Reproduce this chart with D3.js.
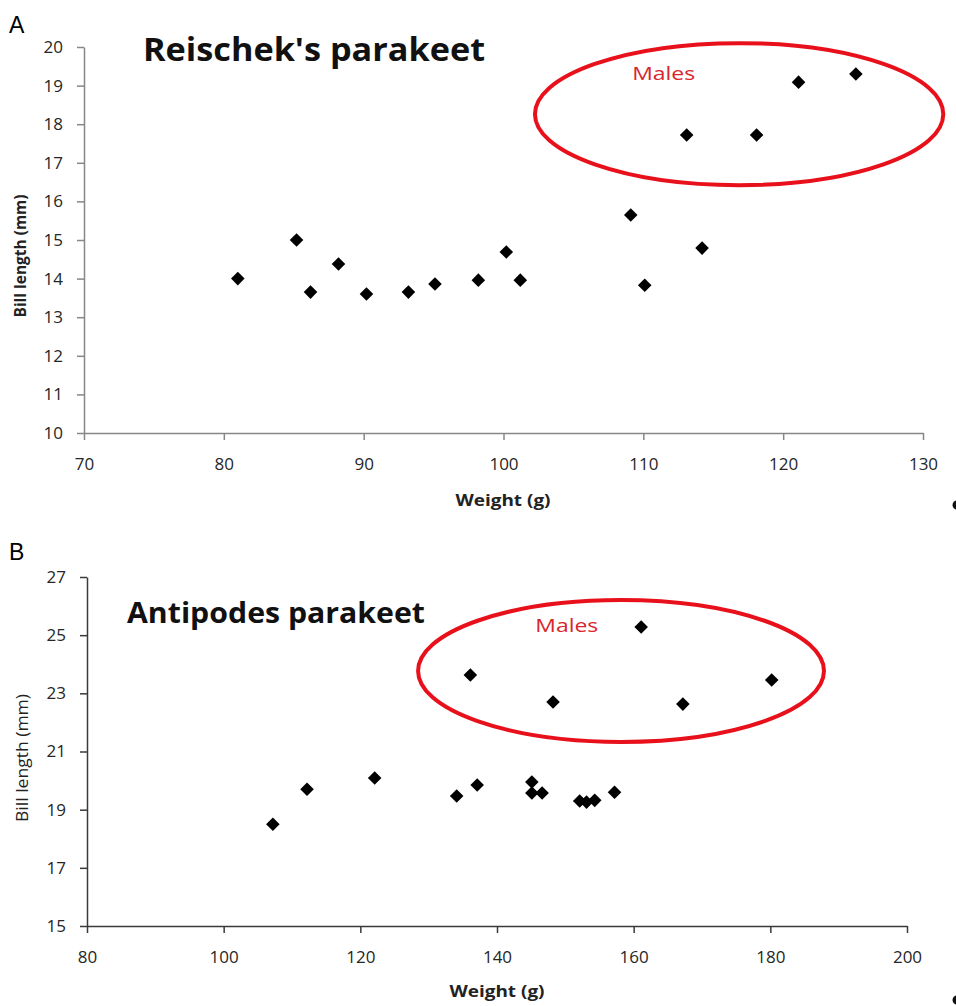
<!DOCTYPE html>
<html>
<head>
<meta charset="utf-8">
<script src="https://cdn.jsdelivr.net/npm/d3@7"></script>
<style>
  body { margin: 0; background: #fff; }
  svg { display: block; font-family: "Open Sans", Lato, sans-serif; }
  .tick text { fill: #262626; font-size: 17px; }
</style>
</head>
<body>
<svg id="drawing" width="956" height="1006"></svg>
<script>
// Panel A: Reischek's parakeet
const reischekWeight = [81, 85.2, 86.2, 88.2, 90.2, 93.2, 95.1, 98.2, 100.2, 101.2, 109.1, 110.1, 114.2, 113.1, 118.1, 121.1, 125.2];
const reischekBill   = [14.0, 15.0, 13.65, 14.38, 13.6, 13.65, 13.86, 13.96, 14.69, 13.96, 15.65, 13.83, 14.79, 17.72, 17.72, 19.09, 19.3];
const reischekXTicks = [70, 80, 90, 100, 110, 120, 130];
const reischekYTicks = [10, 11, 12, 13, 14, 15, 16, 17, 18, 19, 20];

// Panel B: Antipodes parakeet
const antipodesWeight = [107.2, 112.2, 122.1, 134.1, 137.1, 145.1, 145.1, 146.6, 152.1, 153.1, 154.3, 157.2, 136.1, 148.2, 161.1, 167.2, 180.2];
const antipodesBill   = [18.5, 19.7, 20.09, 19.47, 19.85, 19.95, 19.57, 19.57, 19.3, 19.26, 19.32, 19.6, 23.63, 22.7, 25.28, 22.63, 23.46];
const antipodesXTicks = [80, 100, 120, 140, 160, 180, 200];
const antipodesYTicks = [15, 17, 19, 21, 23, 25, 27];

const svg = d3.select("svg#drawing");

function panel(cfg) {
  const { xs, ys, xTicks, yTicks, xRange, yRange, axisColor } = cfg;
  const x = d3.scaleLinear().domain(d3.extent(xTicks)).range(xRange);
  const y = d3.scaleLinear().domain(d3.extent(yTicks)).range(yRange);
  const g = svg.append("g");

  // letter
  g.append("text")
    .attr("x", 9).attr("y", cfg.letterY)
    .attr("font-family", "Liberation Sans, Arial, sans-serif")
    .attr("font-size", 23)
    .text(cfg.letter);

  const xAxis = g.append("g")
    .attr("transform", `translate(0,${yRange[0]})`)
    .call(d3.axisBottom(x).tickValues(xTicks).tickSize(7).tickPadding(18).tickSizeOuter(0));
  const yAxis = g.append("g")
    .attr("transform", `translate(${xRange[0]},0)`)
    .call(d3.axisLeft(y).tickValues(yTicks).tickSize(7).tickPadding(14).tickSizeOuter(0));
  [xAxis, yAxis].forEach(a => {
    a.selectAll("path, line").attr("stroke", axisColor).attr("stroke-width", 1.5);
    a.attr("font-family", null).attr("font-size", null);
  });

  // title
  g.append("text")
    .attr("x", cfg.title.x).attr("y", cfg.title.y)
    .attr("font-weight", 700).attr("font-size", cfg.title.size)
    .attr("textLength", cfg.title.len).attr("lengthAdjust", "spacingAndGlyphs")
    .attr("fill", "#111")
    .text(cfg.title.text);

  // axis titles
  g.append("text")
    .attr("x", cfg.xLabel.x).attr("y", cfg.xLabel.y)
    .attr("text-anchor", "middle")
    .attr("font-weight", 700).attr("font-size", 16)
    .attr("textLength", 95).attr("lengthAdjust", "spacingAndGlyphs")
    .attr("fill", "#222")
    .text("Weight (g)");
  g.append("text")
    .attr("transform", `translate(${cfg.yLabel.x},${cfg.yLabel.y}) rotate(-90)`)
    .attr("text-anchor", "middle")
    .attr("font-weight", cfg.yLabel.weight).attr("font-size", 16)
    .attr("textLength", cfg.yLabel.len).attr("lengthAdjust", "spacingAndGlyphs")
    .attr("fill", "#222")
    .text("Bill length (mm)");

  // males ellipse
  const e = cfg.ellipse;
  g.append("ellipse")
    .attr("cx", x(e.cx)).attr("cy", y(e.cy))
    .attr("rx", x(e.cx + e.rx) - x(e.cx))
    .attr("ry", y(e.cy - e.ry) - y(e.cy))
    .attr("fill", "none")
    .attr("stroke", "#e8101a")
    .attr("stroke-width", 4);
  g.append("text")
    .attr("x", x(e.labelX)).attr("y", y(e.labelY))
    .attr("fill", "#d8262c")
    .attr("font-size", 19)
    .attr("textLength", 63).attr("lengthAdjust", "spacingAndGlyphs")
    .text("Males");

  // points
  const pts = xs.map((v, i) => ({ w: v, b: ys[i] }));
  g.selectAll(".pt")
    .data(pts)
    .enter()
    .append("path")
    .attr("class", "pt")
    .attr("d", d3.symbol(d3.symbolSquare).size(92))
    .attr("transform", d => `translate(${x(d.w)},${y(d.b)}) rotate(45)`)
    .attr("fill", "#000");

  // stray marker at right edge
  g.append("circle")
    .attr("cx", 957).attr("cy", cfg.strayY).attr("r", 4.5)
    .attr("fill", "#111");
}

panel({
  letter: "A", letterY: 33,
  xs: reischekWeight, ys: reischekBill,
  xTicks: reischekXTicks, yTicks: reischekYTicks,
  xRange: [84, 923], yRange: [433, 47],
  axisColor: "#878787",
  title: { text: "Reischek's parakeet", x: 143, y: 61, size: 32, len: 342 },
  xLabel: { x: 503, y: 506 },
  yLabel: { x: 26, y: 256, weight: 700, len: 123 },
  ellipse: { cx: 116.85, cy: 18.26, rx: 14.6, ry: 1.84, labelX: 109.2, labelY: 19.15 },
  strayY: 505
});

panel({
  letter: "B", letterY: 560,
  xs: antipodesWeight, ys: antipodesBill,
  xTicks: antipodesXTicks, yTicks: antipodesYTicks,
  xRange: [87, 907], yRange: [926, 577],
  axisColor: "#3a3a3a",
  title: { text: "Antipodes parakeet", x: 127, y: 623, size: 28, len: 298 },
  xLabel: { x: 497, y: 997 },
  yLabel: { x: 28, y: 758, weight: 400, len: 128 },
  ellipse: { cx: 158.15, cy: 23.77, rx: 29.7, ry: 2.44, labelX: 145.6, labelY: 25.1 },
  strayY: 1000
});
</script>
</body>
</html>
